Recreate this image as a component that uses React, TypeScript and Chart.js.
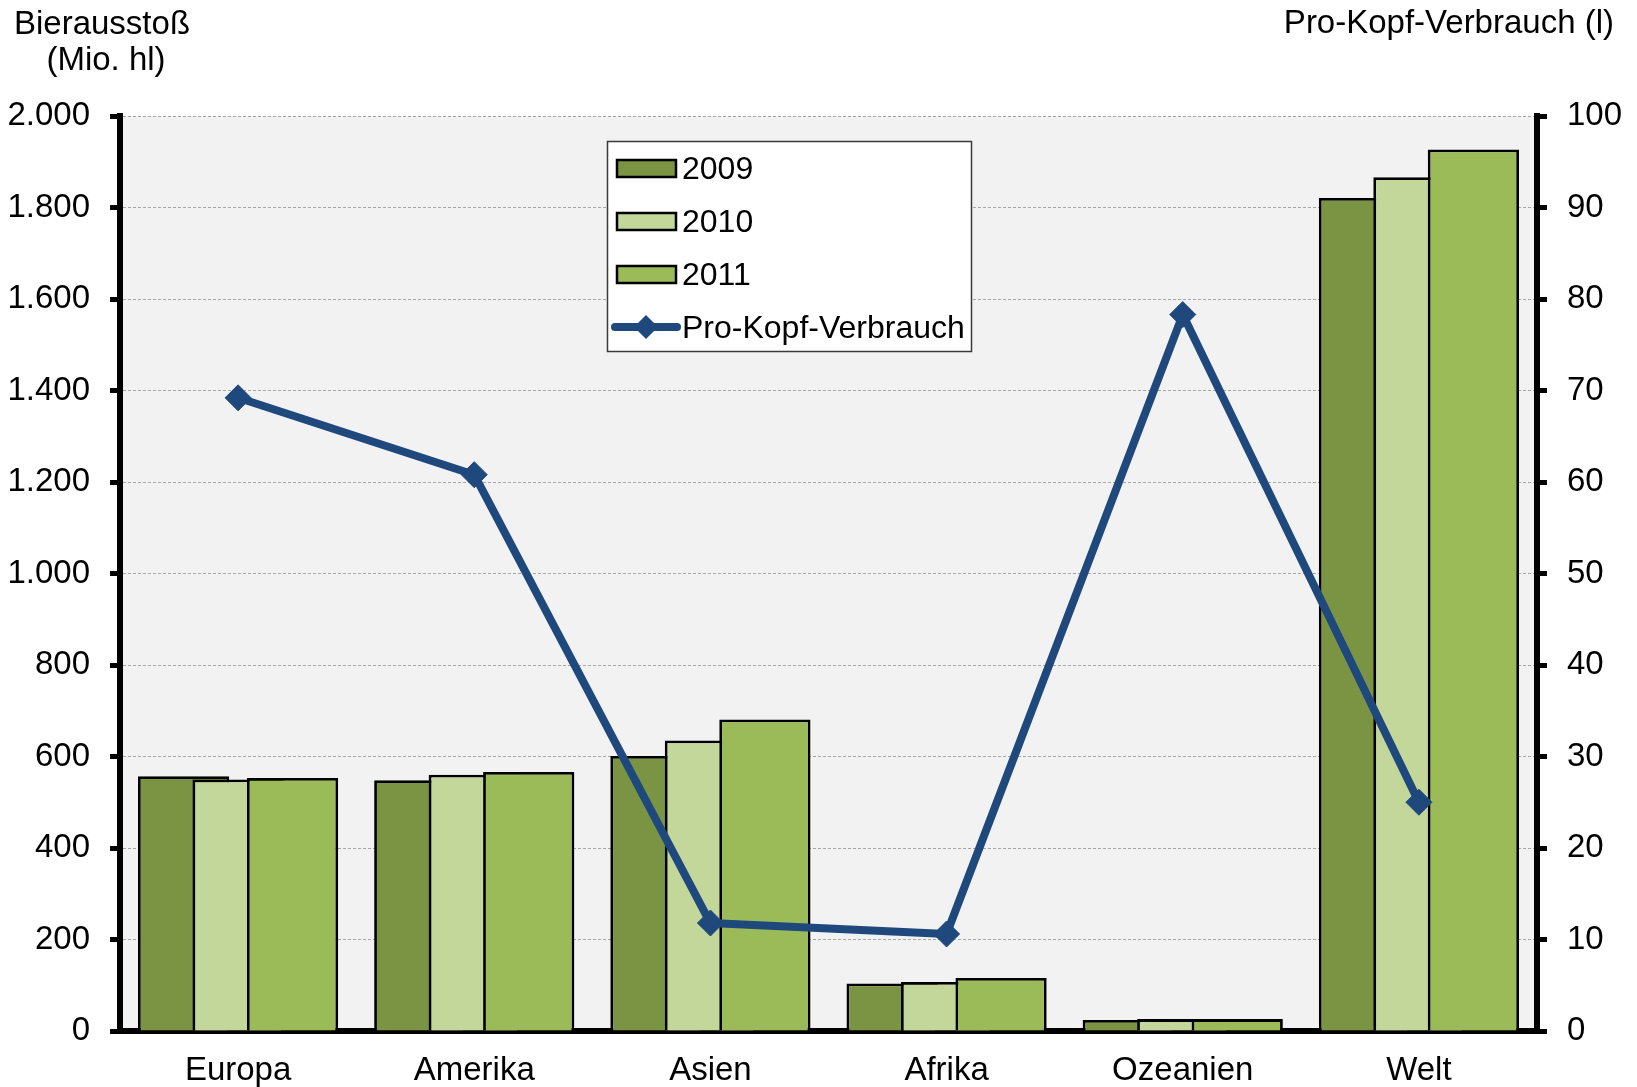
import React, { useEffect, useRef } from 'react';
import { Chart, registerables } from 'chart.js';

Chart.register(...registerables);

// ---------- data ----------
const categories = ['Europa', 'Amerika', 'Asien', 'Afrika', 'Ozeanien', 'Welt'];
const seriesLabels = ['2009', '2010', '2011'];
const output2009 = [557, 548, 601, 104, 24, 1821];
const output2010 = [550, 560, 635, 107, 26, 1866];
const output2011 = [553, 566, 681, 116, 26, 1927];
const perCapitaLabel = 'Pro-Kopf-Verbrauch';
const perCapita = [69.2, 60.8, 11.8, 10.6, 78.3, 25.0];
const leftTitleLines = ['Bierausstoß', '(Mio. hl)'];
const rightTitle = 'Pro-Kopf-Verbrauch (l)';
const leftAxisMax = 2000;
const leftAxisStep = 200;
const rightAxisMax = 100;
const rightAxisStep = 10;

// ---------- style ----------
const FONT = "'Liberation Sans', Arial, sans-serif";
const FONT_SIZE = 33;
const LEGEND_FONT_SIZE = 32;
const barColors = ['#7B9444', '#C4D79B', '#9BBB59'];
const lineColor = '#1F497D';
const W = 1637;
const H = 1087;

const fmtThousands = (v: number) =>
  String(Math.round(v)).replace(/\B(?=(\d{3})+(?!\d))/g, '.');

const plotBgPlugin = {
  id: 'plotBg',
  beforeDraw(chart: any) {
    const { ctx, chartArea } = chart;
    ctx.save();
    ctx.fillStyle = '#F2F2F2';
    ctx.fillRect(chartArea.left, chartArea.top, chartArea.right - chartArea.left, chartArea.bottom - chartArea.top);
    ctx.restore();
  },
};

// Draw bars in dataset order (2009 first, 2011 last on top), the line afterwards.
const barOrderPlugin = {
  id: 'barOrder',
  beforeDatasetsDraw(chart: any) {
    const ctx = chart.ctx;
    chart.data.datasets.forEach((ds: any, i: number) => {
      const meta = chart.getDatasetMeta(i);
      if (meta.type === 'bar' && chart.isDatasetVisible(i)) {
        ctx.save();
        meta.controller.draw();
        ctx.restore();
      }
    });
  },
  beforeDatasetDraw(chart: any, args: any) {
    if (args.meta.type === 'bar') return false;
    return true;
  },
};

const titlesPlugin = {
  id: 'titles',
  afterDraw(chart: any) {
    const ctx = chart.ctx;
    ctx.save();
    ctx.fillStyle = '#000';
    ctx.font = `${FONT_SIZE}px ${FONT}`;
    ctx.textBaseline = 'alphabetic';
    ctx.textAlign = 'center';
    ctx.fillText(leftTitleLines[0], 102, 34);
    ctx.fillText(leftTitleLines[1], 106, 70);
    ctx.textAlign = 'right';
    ctx.fillText(rightTitle, 1614, 33);
    ctx.restore();
  },
};

const legendPlugin = {
  id: 'customLegend',
  afterDatasetsDraw(chart: any) {
    const ctx = chart.ctx;
    const box = { x: 607, y: 141, w: 365, h: 211 };
    ctx.save();
    ctx.fillStyle = '#FFFFFF';
    ctx.fillRect(box.x, box.y, box.w, box.h);
    ctx.strokeStyle = '#3A3A3A';
    ctx.lineWidth = 1.5;
    ctx.strokeRect(box.x + 0.5, box.y + 0.5, box.w - 1, box.h - 1);
    ctx.font = `${LEGEND_FONT_SIZE}px ${FONT}`;
    ctx.textBaseline = 'alphabetic';
    ctx.textAlign = 'left';
    chart.data.datasets.forEach((ds: any, i: number) => {
      const cy = box.y + 27 + i * 53;
      if (ds.type === 'line') {
        ctx.strokeStyle = ds.borderColor;
        ctx.lineWidth = 8;
        ctx.lineCap = 'round';
        ctx.beginPath();
        ctx.moveTo(box.x + 8, cy);
        ctx.lineTo(box.x + 70, cy);
        ctx.stroke();
        ctx.fillStyle = ds.borderColor;
        const r = 12;
        const cx = box.x + 39;
        ctx.beginPath();
        ctx.moveTo(cx, cy - r);
        ctx.lineTo(cx + r, cy);
        ctx.lineTo(cx, cy + r);
        ctx.lineTo(cx - r, cy);
        ctx.closePath();
        ctx.fill();
      } else {
        ctx.fillStyle = ds.backgroundColor;
        ctx.fillRect(box.x + 10, cy - 8, 59, 17);
        ctx.strokeStyle = '#000';
        ctx.lineWidth = 2.5;
        ctx.strokeRect(box.x + 10, cy - 8, 59, 17);
      }
      ctx.fillStyle = '#000';
      ctx.fillText(ds.label, box.x + 75, cy + 11);
    });
    ctx.restore();
  },
};

export default function App() {
  const canvasRef = useRef<HTMLCanvasElement | null>(null);

  useEffect(() => {
    if (!canvasRef.current) return;
    Chart.defaults.font.family = FONT;
    const barSeries = [output2009, output2010, output2011];
    const chart = new Chart(canvasRef.current, {
      data: {
        labels: categories,
        datasets: [
          ...barSeries.map((values, i) => ({
            type: 'bar' as const,
            label: seriesLabels[i],
            data: values,
            backgroundColor: barColors[i],
            borderColor: '#000000',
            borderWidth: 2.8,
            borderSkipped: 'bottom' as const,
            categoryPercentage: 0.692,
            barPercentage: 1.675,
            yAxisID: 'y',
          })),
          {
            type: 'line' as const,
            label: perCapitaLabel,
            data: perCapita,
            borderColor: lineColor,
            backgroundColor: lineColor,
            borderWidth: 8,
            borderJoinStyle: 'round' as const,
            tension: 0,
            pointStyle: 'rectRot' as const,
            pointRadius: 13,
            pointBorderWidth: 1,
            pointBackgroundColor: lineColor,
            pointBorderColor: lineColor,
            yAxisID: 'y1',
          },
        ],
      },
      options: {
        responsive: false,
        animation: false,
        events: [],
        layout: { padding: { top: 116, left: 0, right: 0, bottom: 0 } },
        plugins: {
          legend: { display: false },
          tooltip: { enabled: false },
          title: { display: false },
        },
        scales: {
          x: {
            type: 'category',
            offset: true,
            grid: { display: false, drawTicks: false },
            border: { display: true, color: '#000', width: 6 },
            ticks: {
              color: '#000',
              font: { family: FONT, size: FONT_SIZE },
              padding: 20,
              maxRotation: 0,
              autoSkip: false,
            },
            afterFit: (s: any) => {
              s.height = 56;
            },
          },
          y: {
            type: 'linear',
            position: 'left',
            min: 0,
            max: leftAxisMax,
            ticks: {
              stepSize: leftAxisStep,
              color: '#000',
              font: { family: FONT, size: FONT_SIZE },
              padding: 20,
              callback: (v: any) => fmtThousands(Number(v)),
            },
            grid: {
              color: '#A6A6A6',
              lineWidth: 1,
              tickColor: '#000',
              tickWidth: 5,
              tickLength: 10,
              tickBorderDash: [],
            },
            border: { display: true, color: '#000', width: 6, dash: [3, 2] },
            afterFit: (s: any) => {
              s.width = 120;
            },
          },
          y1: {
            type: 'linear',
            position: 'right',
            min: 0,
            max: rightAxisMax,
            ticks: {
              stepSize: rightAxisStep,
              color: '#000',
              font: { family: FONT, size: FONT_SIZE },
              padding: 20,
            },
            grid: {
              drawOnChartArea: false,
              color: '#000',
              lineWidth: 5,
              tickLength: 10,
            },
            border: { display: true, color: '#000', width: 6 },
            afterFit: (s: any) => {
              s.width = 100;
            },
          },
        },
      } as any,
      plugins: [plotBgPlugin, barOrderPlugin, legendPlugin, titlesPlugin],
    } as any);
    return () => chart.destroy();
  }, []);

  return (
    <div style={{ position: 'absolute', left: 0, top: 0, width: W, height: H, background: '#fff' }}>
      <canvas ref={canvasRef} width={W} height={H} style={{ width: W, height: H, display: 'block' }} />
    </div>
  );
}
